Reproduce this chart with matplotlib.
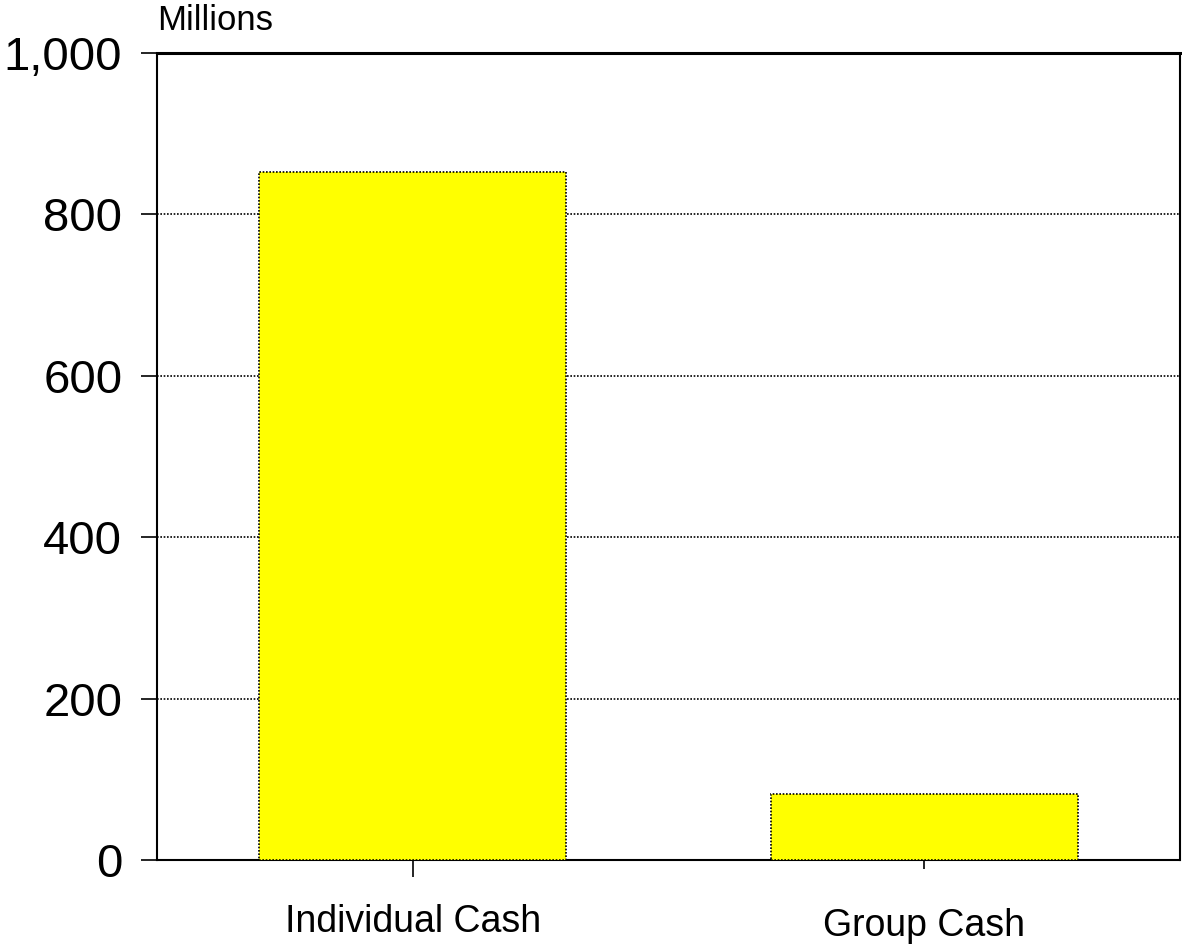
import matplotlib
matplotlib.use("Agg")
import matplotlib.pyplot as plt
from matplotlib.ticker import FuncFormatter

categories = ["Individual Cash", "Group Cash"]
values = [852, 82]
yticks = [0, 200, 400, 600, 800, 1000]

plt.rcParams['font.family'] = ['Liberation Sans', 'DejaVu Sans']

fig = plt.figure(figsize=(11.82, 9.44), dpi=100)
ax = fig.add_axes([157/1182, 1 - 860/944, (1180-157)/1182, (860-53)/944])

x = list(range(len(categories)))
ax.bar(x, values, width=0.6, color='#FFFF00', edgecolor='black',
       linewidth=1.2, linestyle=(0, (1, 1)), zorder=3)

ax.set_xlim(-0.5, 1.5)
ax.set_ylim(0, 1000)
ax.set_yticks(yticks)
ax.yaxis.set_major_formatter(FuncFormatter(lambda v, p: f"{int(v):,}"))
ax.set_xticks(x)
ax.set_xticklabels(categories, fontsize=27)
ax.tick_params(axis='y', labelsize=34, length=11.5, width=1.2, pad=13.5, direction='out')
ax.tick_params(axis='x', length=12, width=1.2, pad=20, direction='out')
for t in ax.yaxis.get_ticklines() + ax.xaxis.get_ticklines():
    t.set_linestyle((0, (1, 1)))
# shorter tick under second category
ax.xaxis.get_major_ticks()[1].tick1line.set_markersize(6.5)
ax.get_xticklabels()[1].set_y(-0.0045)

ax.yaxis.grid(True, color='black', linewidth=1.2, linestyle=(0, (1, 1)), zorder=1)
ax.set_axisbelow(True)

ax.spines['top'].set_linewidth(2.2)
ax.spines['top'].set_color('black')
for s in ['left', 'right', 'bottom']:
    ax.spines[s].set_linestyle((0, (1, 1)))
    ax.spines[s].set_linewidth(1.5)

fig.text(157/1182, 1 - 20/944, "Millions", fontsize=25, ha='left', va='center')

fig.savefig("out.png", dpi=100)
